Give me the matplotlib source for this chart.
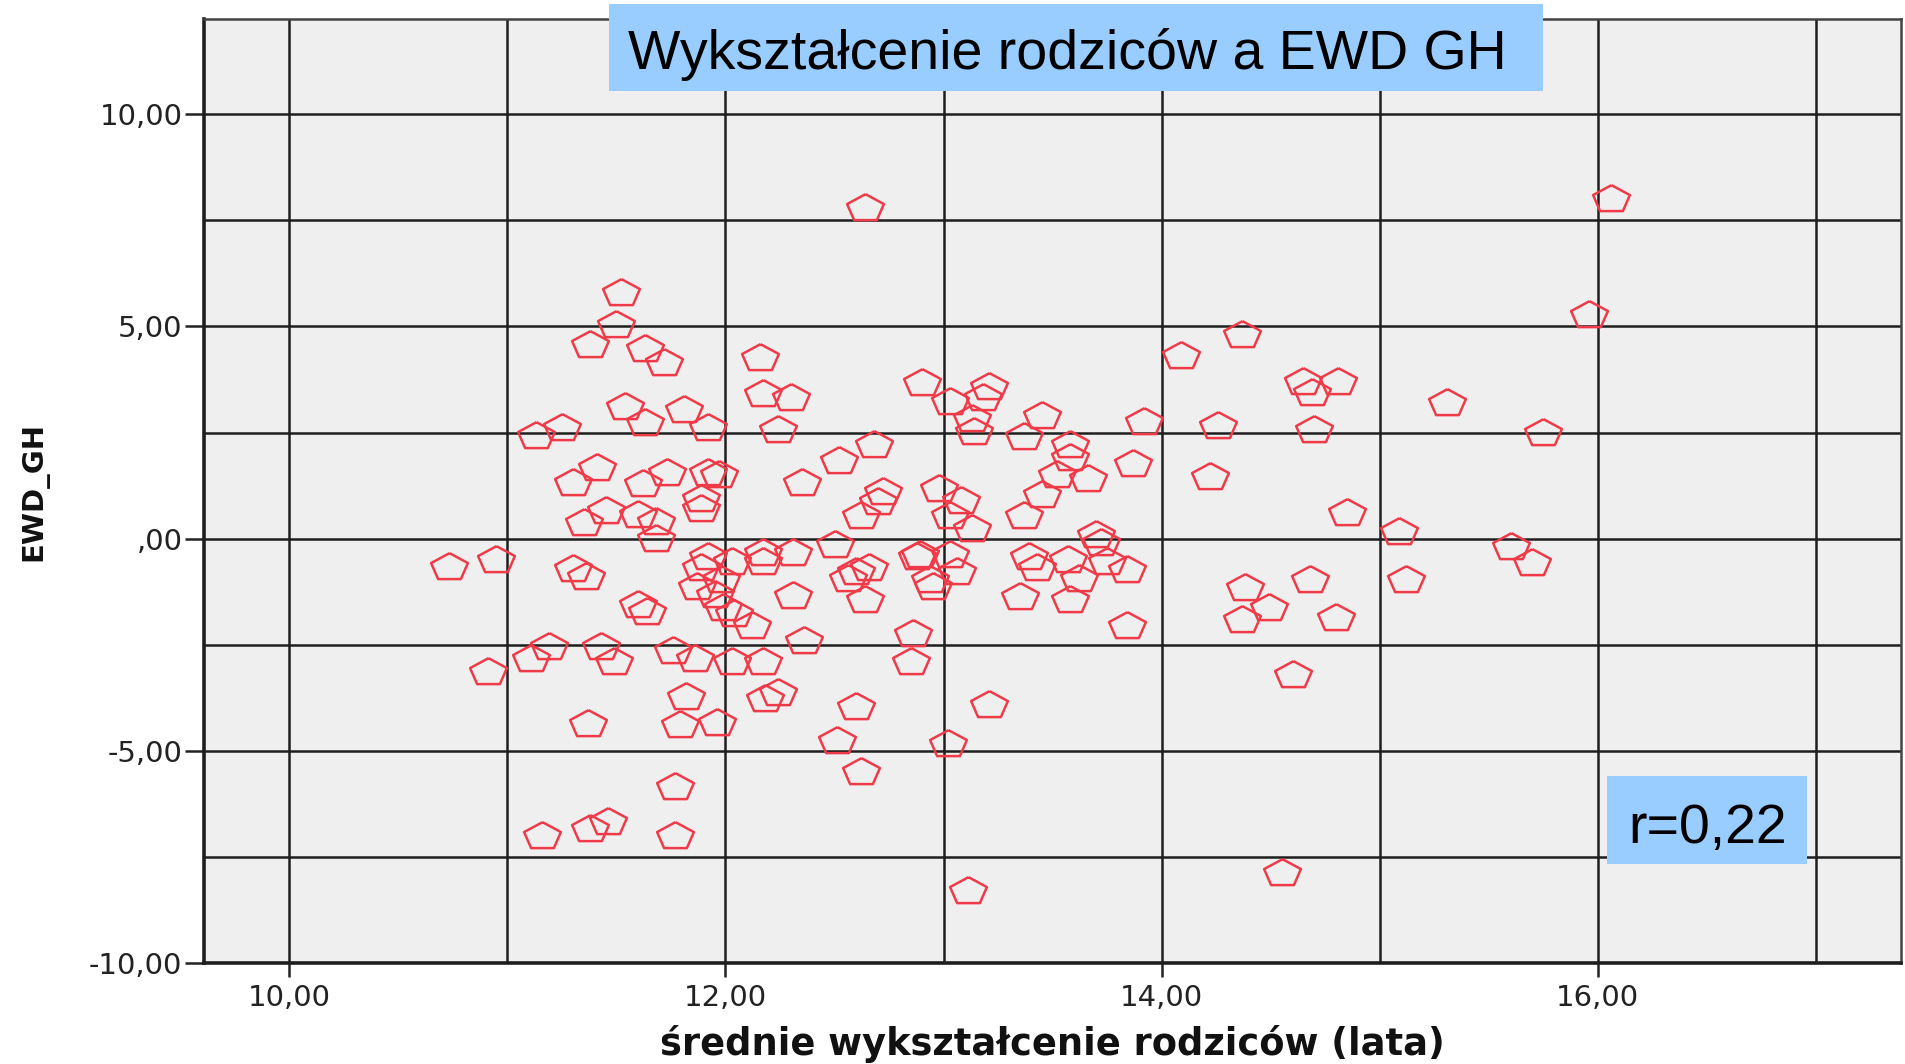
import matplotlib
matplotlib.use('Agg')
import matplotlib.pyplot as plt
from matplotlib.patches import Rectangle

# średnie wykształcenie rodziców (lata)
edu = [10.73, 10.95, 10.91, 11.13, 11.25, 11.11, 11.19, 11.16, 11.30, 11.36,
       11.30, 11.35, 11.41, 11.38, 11.45, 11.43, 11.49, 11.37, 11.38, 11.46,
       11.52, 11.50, 11.54, 11.63, 11.72, 11.63, 11.62, 11.73, 11.60, 11.68,
       11.68, 11.60, 11.64, 11.76, 11.86, 11.82, 11.79, 11.77, 11.77, 11.81,
       11.92, 11.92, 11.97, 11.89, 11.89, 11.92, 11.89, 11.87, 11.95, 11.98,
       12.03, 11.99, 12.04, 11.96, 12.03, 12.12, 12.17, 12.17, 12.17, 12.18,
       12.24, 12.16, 12.17, 12.30, 12.24, 12.31, 12.31, 12.35, 12.36, 12.50,
       12.52, 12.64, 12.68, 12.62, 12.70, 12.72, 12.56, 12.60, 12.66, 12.64,
       12.60, 12.51, 12.62, 12.90, 13.03, 13.21, 13.18, 13.13, 13.14, 12.98,
       13.08, 13.03, 13.13, 12.88, 12.89, 13.03, 13.06, 12.94, 12.95, 12.86,
       12.85, 13.21, 13.02, 13.11, 13.37, 13.45, 13.52, 13.45, 13.37, 13.39,
       13.43, 13.35, 13.58, 13.58, 13.57, 13.62, 13.58, 13.66, 13.70, 13.72,
       13.75, 13.84, 13.84, 13.87, 13.92, 14.09, 14.26, 14.22, 14.37, 14.38,
       14.37, 14.49, 14.60, 14.55, 14.65, 14.69, 14.70, 14.81, 14.68, 14.80,
       14.85, 15.09, 15.12, 15.31, 15.60, 15.70, 15.75, 15.96, 16.06]

# EWD_GH
ewd = [-0.66, -0.51, -3.14, 2.43, 2.60, -2.83, -2.54, -7.00, -0.71, -0.91,
       1.31, 0.37, 1.66, 4.56, 0.66, -2.54, -2.91, -4.37, -6.83, -6.66,
       5.79, 5.04, 3.11, 4.46, 4.14, 2.73, 1.29, 1.54, 0.56, 0.39,
       -0.01, -1.56, -1.73, -2.64, -2.84, -3.73, -4.39, -5.85, -7.00, 3.03,
       2.60, 1.54, 1.51, 0.94, 0.71, -0.43, -0.69, -1.14, -1.33, -0.96,
       -0.54, -1.63, -1.77, -4.34, -2.91, -2.06, -0.54, -0.34, -2.91, -3.77,
       -3.63, 4.26, 3.40, 3.31, 2.57, -0.34, -1.34, 1.31, -2.40, -0.14,
       1.83, 7.79, 2.20, 0.53, 0.86, 1.11, -0.94, -0.77, -0.69, -1.43,
       -3.97, -4.77, -5.49, 3.66, 3.23, 3.57, 3.31, 2.83, 2.51, 1.17,
       0.89, 0.53, 0.23, -0.43, -0.37, -0.37, -0.77, -0.97, -1.14, -2.23,
       -2.91, -3.91, -4.83, -8.29, 2.40, 2.89, 1.51, 1.03, 0.54, -0.43,
       -0.69, -1.37, 2.20, 1.91, -0.51, -0.94, -1.43, 1.40, 0.09, -0.09,
       -0.54, -0.74, -2.06, 1.77, 2.74, 4.31, 2.66, 1.46, 4.80, -1.17,
       -1.91, -1.63, -3.20, -7.87, 3.69, 3.43, 2.57, 3.69, -0.97, -1.86,
       0.60, 0.17, -0.97, 3.20, -0.20, -0.57, 2.49, 5.26, 8.01]

x_ticks = [10, 12, 14, 16]
x_ticklabels = ['10,00', '12,00', '14,00', '16,00']
x_minor = [11, 13, 15, 17]
y_ticks = [-10, -5, 0, 5, 10]
y_ticklabels = ['-10,00', '-5,00', ',00', '5,00', '10,00']
y_minor = [-7.5, -2.5, 2.5, 7.5]

title = 'Wykształcenie rodziców a EWD GH'
r_text = 'r=0,22'

# pentagon stretched sideways like in the SPSS export
sx = 1.35
pentagon = [(0.0, 1.0), (sx * -0.951, 0.309), (sx * -0.588, -0.809),
            (sx * 0.588, -0.809), (sx * 0.951, 0.309), (0.0, 1.0)]

fig = plt.figure(figsize=(19.05, 10.64), dpi=100)
ax = fig.add_axes([0.1071, 0.0945, 0.8908, 0.8872])
ax.set_facecolor('#efefef')

ax.plot(edu, ewd, linestyle='none', marker=pentagon, markersize=26.5,
        markerfacecolor='none', markeredgecolor='#f03a48', markeredgewidth=1.8)

ax.set_xlim(9.609, 17.39)
ax.set_ylim(-10, 12.23)

ax.set_xticks(x_ticks)
ax.set_xticklabels(x_ticklabels)
ax.set_xticks(x_minor, minor=True)
ax.set_yticks(y_ticks)
ax.set_yticklabels(y_ticklabels)
ax.set_yticks(y_minor, minor=True)

ax.set_axisbelow(True)
ax.grid(which='both', color='#1e1e1e', linewidth=1.8)

ax.tick_params(which='major', axis='both', labelsize=21, labelcolor='#222222',
               color='#222222', width=1.8)
ax.tick_params(which='major', axis='y', length=14, pad=1.5)
ax.tick_params(which='major', axis='x', length=10, pad=5)
ax.tick_params(which='minor', length=0)

for side in ['left', 'bottom']:
    ax.spines[side].set_linewidth(2.6)
    ax.spines[side].set_color('#1e1e1e')
for side in ['top', 'right']:
    ax.spines[side].set_linewidth(1.8)
    ax.spines[side].set_color('#444444')

ax.set_xlabel('średnie wykształcenie rodziców (lata)', fontsize=26.5,
              fontweight='bold', color='#111111', va='center')
ax.xaxis.set_label_coords(0.5, -0.0853)
ax.set_ylabel('EWD_GH', fontsize=21, fontweight='bold', color='#111111',
              va='center')
ax.yaxis.set_label_coords(-0.1, 0.5)

# title box
fig.add_artist(Rectangle((0.3197, 0.9145), 0.4903, 0.0818, transform=fig.transFigure,
                         facecolor='#99ccff', edgecolor='none', zorder=5))
fig.text(0.3297, 0.935, title, fontsize=40, family='Liberation Sans',
         color='black', ha='left', va='baseline', zorder=6)

# correlation box
fig.add_artist(Rectangle((0.8436, 0.188), 0.105, 0.0827, transform=fig.transFigure,
                         facecolor='#99ccff', edgecolor='none', zorder=5))
fig.text(0.8546, 0.2077, r_text, fontsize=40, family='Liberation Sans',
         color='black', ha='left', va='baseline', zorder=6)

fig.savefig('out.png', dpi=100)
